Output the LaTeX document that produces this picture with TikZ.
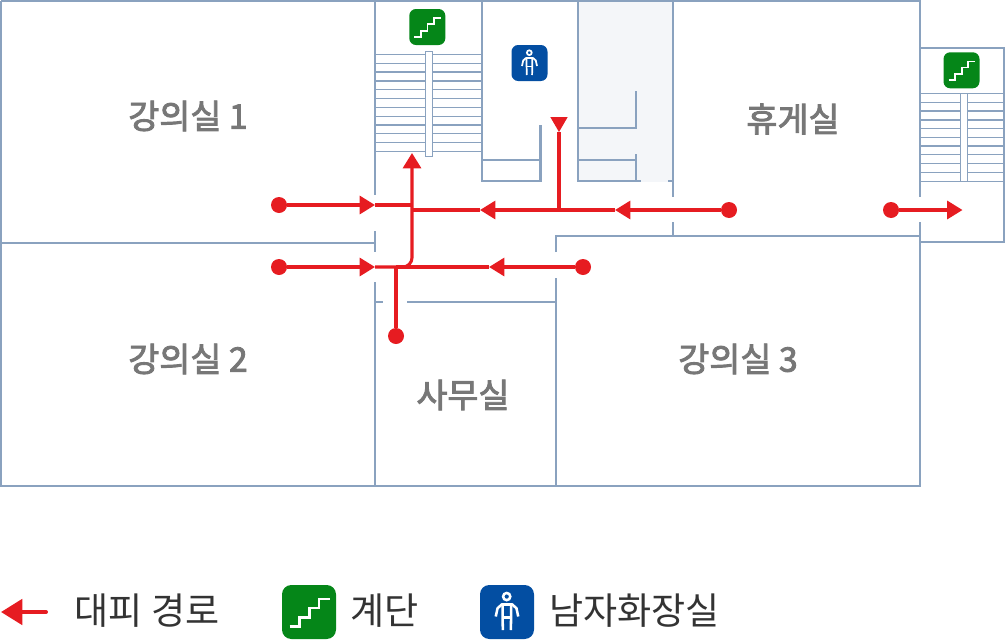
\documentclass[tikz,border=0pt]{standalone}
\usepackage{fontspec}
\setmainfont{Noto Sans CJK KR}
\newfontfamily\roomfont[FakeBold=2.6]{Noto Sans CJK KR}
\usetikzlibrary{arrows.meta}
\definecolor{wallc}{RGB}{138,162,191}
\definecolor{routec}{RGB}{230,28,33}
\definecolor{shadec}{RGB}{244,246,249}
\definecolor{stairc}{RGB}{5,134,24}
\definecolor{manc}{RGB}{3,78,162}
\definecolor{roomc}{RGB}{119,119,119}
\definecolor{legc}{RGB}{51,51,51}
\tikzset{
  wall/.style={draw=wallc,line width=1.7pt},
  tread/.style={draw=wallc,line width=0.9pt},
  route/.style={draw=routec,line width=2.3pt},
  headed/.style={route,-{Triangle[length=11.5pt,width=13.5pt]}},
  dot/.style={circle,fill=routec,inner sep=0pt,minimum size=12pt},
  room/.style={text=roomc,font=\roomfont\fontsize{25.3}{28}\selectfont},
  legend/.style={text=legc,font=\fontsize{27.8}{30}\selectfont,anchor=west},
  pics/stairicon/.style={code={
    \fill[stairc] (0,0) rectangle (36,36);
    \draw[white,sharp corners] (5,27.7) -- (11.7,27.7) -- (11.7,21.7) -- (18.3,21.7) -- (18.3,15.3) -- (24.7,15.3) -- (24.7,9.3) -- (31.7,9.3);
  }},
  pics/manicon/.style={code={
    \fill[manc] (0,0) rectangle (36,36);
    \draw[white,sharp corners] (17.8,7.7) circle [radius=2.4];
    \draw[white,sharp corners] (10.5,21) -- (11.7,15.5) -- (14.5,13) -- (21.5,13) -- (24.3,15.5) -- (25.5,21);
    \draw[white,sharp corners] (15,13) -- (15.2,30);
    \draw[white,sharp corners] (20.8,13) -- (20.6,30);
    \draw[white,sharp corners] (15.2,21.5) -- (20.6,21.5);
  }}
}
\begin{document}
\begin{tikzpicture}[x=0.75pt,y=0.75pt,yscale=-1,xscale=1]
\useasboundingbox (0,0) rectangle (1005,639);

% Shaded area
\fill[shadec] (578,1) rectangle (673,182);

% Outer walls
\draw[wall] (1,1) -- (920,1) -- (920,197);
\draw[wall] (920,222) -- (920,486) -- (1,486) -- (1,1);
\draw[wall] (920,48) -- (1004,48) -- (1004,242) -- (920,242);

% Room walls
\draw[wall] (1,243) -- (375,243);
\draw[wall] (375,1) -- (375,195);
\draw[wall] (375,231) -- (375,252);
\draw[wall] (375,282) -- (375,486);
\draw[wall] (375,302) -- (383,302);
\draw[wall] (407,302) -- (556,302);
\draw[wall] (556,252) -- (556,236) -- (920,236);
\draw[wall] (556,278) -- (556,486);
\draw[wall] (673,1) -- (673,197);
\draw[wall] (673,222) -- (673,236);

% Toilet walls
\draw[wall] (482,1) -- (482,181) -- (540.5,181) -- (540.5,125);
\draw[wall] (482,160) -- (540.5,160);
\draw[wall] (578,1) -- (578,181) -- (641,181);
\draw[wall] (668,181) -- (673,181);
\draw[wall] (578,128) -- (636,128) -- (636,91);
\draw[wall] (578,160) -- (636,160);
\draw[wall] (636,154) -- (636,181);

% Stairs left
\draw[tread] (375,54.3) -- (482,54.3);
\draw[tread] (375,63.3) -- (482,63.3);
\draw[tread] (375,72) -- (482,72);
\draw[tread] (375,81) -- (482,81);
\draw[tread] (375,89.7) -- (482,89.7);
\draw[tread] (375,98.7) -- (482,98.7);
\draw[tread] (375,107.3) -- (482,107.3);
\draw[tread] (375,116.3) -- (482,116.3);
\draw[tread] (375,125) -- (482,125);
\draw[tread] (375,133.7) -- (482,133.7);
\draw[tread] (375,142.7) -- (482,142.7);
\draw[tread] (375,151.7) -- (482,151.7);
\draw[tread,fill=white] (425.7,51.7) rectangle (432.3,156.7);

% Stairs right
\draw[tread] (920,93.3) -- (1004,93.3);
\draw[tread] (920,102.3) -- (1004,102.3);
\draw[tread] (920,111) -- (1004,111);
\draw[tread] (920,120) -- (1004,120);
\draw[tread] (920,128.7) -- (1004,128.7);
\draw[tread] (920,137.3) -- (1004,137.3);
\draw[tread] (920,146) -- (1004,146);
\draw[tread] (920,154.7) -- (1004,154.7);
\draw[tread] (920,163.3) -- (1004,163.3);
\draw[tread] (920,172.3) -- (1004,172.3);
\draw[tread] (920,181.3) -- (1004,181.3);
\draw[tread,fill=white] (960.7,93.3) rectangle (967.3,181.3);

% Icons
\pic[transform shape,rounded corners=5pt,line width=1.3pt] at (409.3,9) {stairicon};
\pic[transform shape,rounded corners=5pt,line width=1.3pt] at (943.5,52.3) {stairicon};
\pic[transform shape,rounded corners=5pt,line width=1.3pt] at (511.5,45) {manicon};
\pic[transform shape,scale=1.5,rounded corners=7pt,line width=1.9pt] at (282,585) {stairicon};
\pic[transform shape,scale=1.5,rounded corners=7pt,line width=1.9pt] at (480,585) {manicon};

% Route points
\coordinate (tipa) at (375,205);
\coordinate (joina) at (412,205);
\coordinate (tipb) at (375,267);
\coordinate (joinb) at (412,267);
\coordinate (tipup) at (412,153);
\coordinate (joinc) at (412,210);
\coordinate (tipc) at (480,210);
\coordinate (tipd) at (615,210);
\coordinate (joind) at (559,210);
\coordinate (tipdown) at (559,132);
\coordinate (joine) at (396,267);
\coordinate (tipe) at (489,267);
\coordinate (tipf) at (962.5,210);
\coordinate (tipleg) at (1,612);

\node[dot] (dota) at (279,205) {};
\node[dot] (dotb) at (279,267) {};
\node[dot] (dotc) at (583,267) {};
\node[dot] (dotd) at (396,336) {};
\node[dot] (dote) at (729,210) {};
\node[dot] (dotf) at (891,210) {};
\coordinate (legend end) at (46,612);

% Routes
\draw[headed] (dota) -- (tipa);
\draw[route] (tipa) -- (joina);
\draw[headed] (dotb) -- (tipb);
\draw[headed,rounded corners=7pt] (tipb) -- (joinb) -- (tipup);
\draw[headed] (dote) -- (tipd);
\draw[headed] (tipd) -- (tipc);
\draw[route] (tipc) -- (joinc);
\draw[headed] (dotc) -- (tipe);
\draw[route] (tipe) -- (joine);
\draw[route] (joine) -- (dotd);
\draw[route] (joind) -- (tipdown);
\draw[headed] (dotf) -- (tipf);
\fill[routec] (tipdown) -- ++(-8.7,-15) -- ++(17.4,0) -- cycle;
\draw[route,line width=3pt,line cap=round,-{Triangle[length=16pt,width=19pt]}] (legend end) -- (tipleg);

% Text Node
\node[room] (rooma) at (188,116) {강의실 1};
\node[room] (roomb) at (188,359) {강의실 2};
\node[room] (roomc) at (738,359) {강의실 3};
\node[room] (roomd) at (463,395) {사무실};
\node[room] (roome) at (793,119) {휴게실};

% Text Node
\node[legend] (lega) at (70,610.5) {대피 경로};
\node[legend] (legb) at (345.5,610.5) {계단};
\node[legend] (legc) at (544.5,610.5) {남자화장실};
\end{tikzpicture}
\end{document}
